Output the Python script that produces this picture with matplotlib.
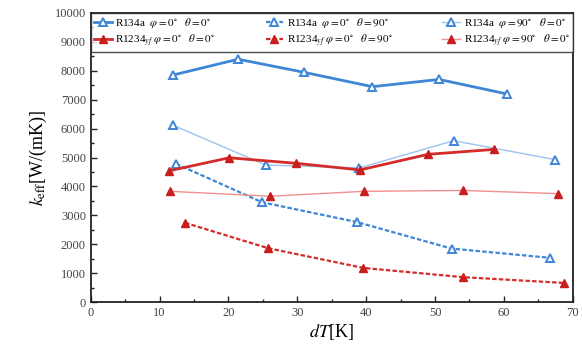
import matplotlib
matplotlib.use("Agg")
import matplotlib.pyplot as plt
from matplotlib.ticker import MultipleLocator

plt.rcParams['font.family'] = ['Liberation Serif', 'DejaVu Serif']
plt.rcParams['mathtext.fontset'] = 'stix'

# Data
x_b1 = [11.9, 21.4, 30.9, 40.9, 50.6, 60.4]
y_b1 = [7850, 8400, 7950, 7450, 7700, 7200]
x_b2 = [12.4, 24.9, 38.6, 52.4, 66.7]
y_b2 = [4780, 3450, 2770, 1850, 1530]
x_b3 = [11.9, 25.4, 39.0, 52.7, 67.4]
y_b3 = [6120, 4740, 4640, 5580, 4930]
x_r1 = [11.4, 20.1, 29.8, 39.1, 49.0, 58.6]
y_r1 = [4540, 4990, 4800, 4570, 5110, 5280]
x_r2 = [13.7, 25.8, 39.6, 54.1, 68.8]
y_r2 = [2740, 1860, 1180, 860, 660]
x_r3 = [11.5, 26.0, 39.7, 54.1, 67.9]
y_r3 = [3830, 3660, 3830, 3860, 3750]

labels = [
    r'R134a  $\varphi=0^{\circ}$   $\theta=0^{\circ}$',
    r'R1234$_{yf}$ $\varphi=0^{\circ}$   $\theta=0^{\circ}$',
    r'R134a  $\varphi=0^{\circ}$   $\theta=90^{\circ}$',
    r'R1234$_{yf}$ $\varphi=0^{\circ}$   $\theta=90^{\circ}$',
    r'R134a  $\varphi=90^{\circ}$   $\theta=0^{\circ}$',
    r'R1234$_{yf}$ $\varphi=90^{\circ}$   $\theta=0^{\circ}$',
]

blue = '#3f86d6'
lblue = '#9cc3ee'
red = '#d42b2b'
lred = '#f09090'
mred = '#c81e1e'

fig = plt.figure(figsize=(5.82, 3.6), dpi=100)
ax = fig.add_axes([0.156, 0.161, 0.828, 0.803])

ms = 6
h1, = ax.plot(x_b1, y_b1, '-', color=blue, lw=2.0, marker='^', ms=ms,
              mfc='white', mec=blue, mew=1.4)
h2, = ax.plot(x_b2, y_b2, '--', color=blue, lw=1.6, marker='^', ms=ms,
              mfc='white', mec=blue, mew=1.4, dashes=(2, 1))
h3, = ax.plot(x_b3, y_b3, '-', color=lblue, lw=1.0, marker='^', ms=ms,
              mfc='white', mec=blue, mew=1.4)
h4, = ax.plot(x_r1, y_r1, '-', color=red, lw=2.0, marker='^', ms=ms,
              mfc=mred, mec=mred)
h5, = ax.plot(x_r2, y_r2, '--', color=red, lw=1.6, marker='^', ms=ms,
              mfc=mred, mec=mred, dashes=(2, 1))
h6, = ax.plot(x_r3, y_r3, '-', color=lred, lw=1.0, marker='^', ms=ms,
              mfc=mred, mec=mred)

ax.set_xlim(0, 70)
ax.set_ylim(0, 10000)
ax.xaxis.set_major_locator(MultipleLocator(10))
ax.xaxis.set_minor_locator(MultipleLocator(5))
ax.yaxis.set_major_locator(MultipleLocator(1000))
ax.yaxis.set_minor_locator(MultipleLocator(500))
ax.tick_params(which='both', direction='in', top=False, right=False,
               labelsize=9, colors='#222222', labelcolor='#444444')
ax.tick_params(which='major', length=4, width=1)
ax.tick_params(which='minor', length=2.5, width=1)
for s in ax.spines.values():
    s.set_linewidth(1.3)
    s.set_color('#222222')

ax.set_xlabel(r'$dT$[K]', fontsize=13, labelpad=2)
ax.set_ylabel(r'$k_{\mathrm{eff}}$[W/(mK)]', fontsize=13, labelpad=4)

leg = ax.legend([h1, h4, h2, h5, h3, h6], labels, ncol=3,
                loc='upper left', bbox_to_anchor=(0, 1, 1, 0), mode='expand',
                fontsize=8, frameon=True, fancybox=False, edgecolor='#222222',
                handlelength=1.6, handletextpad=0.3, columnspacing=0.8,
                borderpad=0.3, labelspacing=0.2, borderaxespad=0)
leg.get_frame().set_linewidth(1.0)

fig.savefig('out.png', dpi=100)
